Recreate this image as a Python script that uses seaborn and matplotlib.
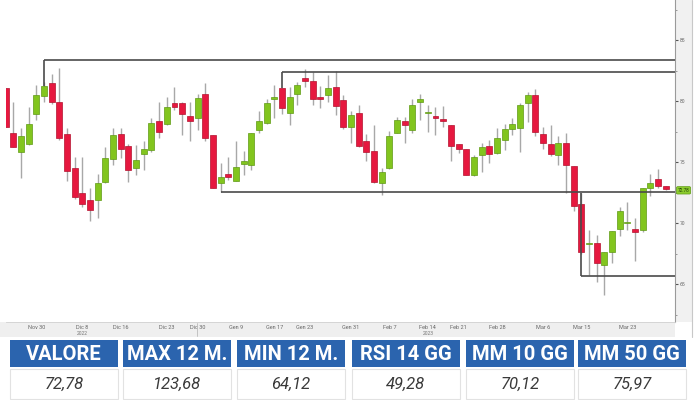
import matplotlib
matplotlib.use("Agg")
import matplotlib.pyplot as plt
from matplotlib.patches import Rectangle
import numpy as np
import pandas as pd
import seaborn as sns

# ---------------- data ----------------
opens = [81.1, 77.4, 75.85, 76.45, 78.9, 80.45, 81.45, 79.95, 77.3, 74.5,
         72.45, 71.9, 71.85, 73.35, 75.25, 77.3, 76.3, 74.5, 75.65, 75.95,
         78.35, 78.15, 79.85, 79.85, 78.75, 78.65, 80.55, 77.2, 73.25, 74.0,
         73.45, 74.8, 74.75, 77.6, 78.2, 80.2, 81.05, 79.05, 80.6, 81.85,
         81.65, 80.3, 80.5, 81.15, 80.05, 77.85, 79.0, 76.75, 75.9, 73.25,
         74.55, 77.4, 78.4, 77.6, 79.9, 79.05, 78.8, 78.5, 78.05, 76.45,
         76.05, 73.95, 75.55, 76.35, 75.75, 76.8, 77.7, 77.8, 79.85, 80.5,
         77.3, 76.45, 75.55, 76.55, 74.65, 71.6, 68.3, 68.35, 66.6, 67.65,
         69.55, 70.0, 69.55, 69.4, 72.9, 73.65, 73.0]
highs = [81.1, 79.9, 77.75, 79.55, 81.35, 81.6, 82.2, 82.7, 77.8, 75.45,
         75.45, 72.9, 74.05, 76.25, 77.75, 77.8, 76.45, 76.4, 76.7, 78.6,
         79.95, 80.35, 81.15, 79.9, 79.95, 80.6, 81.45, 77.2, 74.9, 75.45,
         76.7, 75.9, 77.4, 79.15, 80.2, 81.3, 81.1, 81.15, 81.6, 82.6,
         82.4, 81.25, 82.15, 82.45, 80.5, 79.2, 79.65, 77.3, 78.05, 74.5,
         77.55, 78.7, 78.7, 80.15, 80.6, 79.65, 79.5, 79.6, 78.05, 76.45,
         76.1, 75.55, 76.6, 76.8, 77.75, 78.15, 78.6, 79.85, 80.7, 80.95,
         77.9, 78.05, 77.1, 77.4, 74.65, 72.45, 69.4, 69.0, 67.65, 69.35,
         71.35, 71.75, 70.45, 72.9, 74.0, 74.4, 73.05]
lows = [77.9, 76.2, 73.7, 76.4, 78.45, 79.95, 79.75, 76.8, 73.45, 71.95,
        71.35, 70.2, 70.4, 73.25, 74.75, 75.3, 73.4, 73.9, 74.35, 75.85,
        77.0, 78.0, 79.25, 77.25, 76.7, 77.6, 76.7, 72.85, 72.55, 73.5,
        73.45, 73.9, 74.35, 77.35, 78.1, 78.6, 78.9, 78.05, 79.65, 81.15,
        79.65, 79.45, 79.95, 78.85, 77.7, 76.55, 76.2, 75.05, 73.25, 72.3,
        74.45, 77.35, 76.6, 77.4, 78.45, 77.5, 77.25, 77.9, 75.05, 75.7,
        73.9, 73.85, 74.2, 74.95, 75.65, 76.0, 77.2, 75.85, 78.3, 77.1,
        76.1, 75.5, 74.75, 72.45, 70.95, 67.5, 65.75, 65.2, 64.12, 66.7,
        68.95, 69.4, 66.85, 69.3, 72.2, 72.85, 72.7]
closes = [77.9, 76.25, 77.15, 78.15, 80.5, 81.2, 79.9, 76.95, 74.3, 72.1,
          71.55, 71.05, 73.25, 75.35, 77.2, 76.05, 74.35, 75.15, 76.05, 78.2,
          77.45, 79.55, 79.5, 78.9, 78.35, 80.25, 76.95, 72.9, 73.75, 73.8,
          74.6, 75.1, 77.35, 78.35, 79.8, 80.3, 79.45, 80.35, 81.3, 81.65,
          80.15, 80.15, 81.05, 79.6, 77.85, 78.85, 76.3, 75.85, 73.4, 74.15,
          77.1, 78.45, 78.05, 79.65, 80.15, 79.1, 78.6, 78.4, 76.3, 76.1,
          73.95, 75.4, 76.25, 75.65, 77.0, 77.7, 78.15, 79.65, 80.5, 77.5,
          76.6, 75.65, 76.6, 74.75, 71.4, 67.65, 68.4, 66.75, 67.65, 69.35,
          71.0, 70.05, 69.3, 72.85, 73.25, 73.0, 72.78]

tick_pos = [4, 10, 15, 21, 25, 30, 35, 39, 45, 50, 55, 59, 64, 70, 75, 81]
tick_labels = ["Nov 30", "Dic 8", "Dic 16", "Dic 23", "Dic 30", "Gen 9", "Gen 17",
               "Gen 23", "Gen 31", "Feb 7", "Feb 14", "Feb 21", "Feb 28",
               "Mar 6", "Mar 15", "Mar 23"]
year_pos = [10, 55]
year_labels = ["2022", "2023"]
y_ticks = [65, 70, 75, 80, 85]

level_start = [5, 36, 28, 75]
level_value = [83.36, 82.42, 72.55, 65.65]
level_bracket_to = [81.23, 81.04, 72.55, 72.43]

last_price = 72.78

table_headers = ["VALORE", "MAX 12 M.", "MIN 12 M.", "RSI 14 GG", "MM 10 GG", "MM 50 GG"]
table_values = ["72,78", "123,68", "64,12", "49,28", "70,12", "75,97"]

# ---------------- style ----------------
sns.set_theme(style="white")
plt.rcParams['font.family'] = ['Roboto', 'DejaVu Sans']

GREEN = "#82c51e"
GREEN_E = "#5f9a14"
RED = "#e6183f"
RED_E = "#b3112e"
WICK = "#a8a8a8"
BLUE = "#2b64ae"

df = pd.DataFrame({"open": opens, "high": highs, "low": lows, "close": closes})
df["idx"] = np.arange(len(df))
df["up"] = df["close"] >= df["open"]
df["bottom"] = df[["open", "close"]].min(axis=1)
df["height"] = (df["close"] - df["open"]).abs().clip(lower=0.09)

W, H = 700, 400
fig = plt.figure(figsize=(7, 4), dpi=100)
fig.patch.set_facecolor("white")

plot_left, plot_top, plot_bot = 6, 0, 322
plot_right = 675
ax = fig.add_axes([plot_left / W, 1 - plot_bot / H, (plot_right - plot_left) / W,
                   (plot_bot - plot_top) / H])
ax.set_facecolor("white")

# wicks
ax.vlines(df["idx"], df["low"], df["high"], color=WICK, lw=1.0, zorder=2)
# bodies
ax.bar(df["idx"], df["height"], bottom=df["bottom"], width=0.78,
       color=np.where(df["up"], GREEN, RED),
       edgecolor=np.where(df["up"], GREEN_E, RED_E), linewidth=0.5, zorder=3)

xmin, xmax = 0.05, 87.2
ax.set_xlim(xmin, xmax)
ax.set_ylim(61.89, 88.28)

# support / resistance lines
for s, lv, bt in zip(level_start, level_value, level_bracket_to):
    ax.hlines(lv, s, xmax, color="#4a4a4a", lw=1.2, zorder=4)
    ax.vlines(s, min(lv, bt), max(lv, bt), color="#4a4a4a", lw=1.2, zorder=4)

# axes styling
for sp in ["left", "top"]:
    ax.spines[sp].set_visible(False)
ax.spines["right"].set_color("#9a9a9a")
ax.spines["right"].set_linewidth(0.8)
ax.spines["bottom"].set_color("#d0d0d0")
ax.spines["bottom"].set_linewidth(0.6)

ax.yaxis.tick_right()
ax.set_yticks(y_ticks)
ax.set_yticklabels([str(v) for v in y_ticks])
ax.set_yticks([62.5, 67.5, 72.5, 77.5, 82.5, 87.5], minor=True)
ax.tick_params(axis="y", which="major", length=2, width=0.8, color="#555555",
               labelsize=3.6, labelcolor="#666666", pad=1.5, direction="out")
ax.tick_params(axis="y", which="minor", length=1.5, width=0.6, color="#888888",
               direction="out")

ax.set_xticks(tick_pos)
ax.set_xticklabels(tick_labels)
ax.set_xticks(np.arange(1, len(df)), minor=True)
ax.tick_params(axis="x", which="major", length=1.5, width=0.6, color="#888888",
               labelsize=4, labelcolor="#666666", pad=0.6, direction="out")
ax.tick_params(axis="x", which="minor", length=1.2, width=0.5, color="#aaaaaa",
               direction="out")
ax.grid(False)

for yp, yl in zip(year_pos, year_labels):
    ax.text(yp, -0.037, yl, transform=ax.get_xaxis_transform(), fontsize=3.6,
            color="#777777", ha="center", va="center")

# year separator
ax.plot([24.9, 24.9], [-0.002, -0.045], transform=ax.get_xaxis_transform(),
        color="#bbbbbb", lw=0.6, clip_on=False)

# price label
ax.text(1.004, last_price - 0.1, f"{last_price:.2f}", transform=ax.get_yaxis_transform(),
        fontsize=3.4, color="#1f3d05", ha="left", va="center",
        bbox=dict(boxstyle="round,pad=0.25", fc="#8ccc2e", ec="#5f9a14", lw=0.5),
        clip_on=False, zorder=6)

# background strips (right axis strip, bottom date strip)
fig.patches.append(Rectangle((plot_right / W, 1 - plot_bot / H), 17 / W, plot_bot / H,
                             transform=fig.transFigure, facecolor="#f1f1f1",
                             edgecolor="none", zorder=-1))
fig.patches.append(Rectangle((0, 1 - 337 / H), plot_right / W, 15 / H,
                             transform=fig.transFigure, facecolor="#efefef",
                             edgecolor="none", zorder=-1))
fig.lines.append(plt.Line2D([692 / W, 692 / W], [1 - 337 / H, 1.0],
                            transform=fig.transFigure, color="#c8c8c8", lw=0.8))

# ---------------- table ----------------
axt = fig.add_axes([0, 0, 1, 62 / H])
axt.set_xlim(0, W)
axt.set_ylim(400, 338)
axt.axis("off")
cell_x = [10, 123, 237, 352, 466, 578]
cell_w = 108
for x0, head, val in zip(cell_x, table_headers, table_values):
    axt.add_patch(Rectangle((x0, 340), cell_w, 27, facecolor=BLUE, edgecolor="none"))
    axt.add_patch(Rectangle((x0, 369), cell_w, 30, facecolor="white",
                            edgecolor="#e2e2e2", lw=0.8))
    axt.text(x0 + cell_w / 2, 354, head, ha="center", va="center", color="white",
             fontsize=14.5, fontweight="bold")
    axt.text(x0 + cell_w / 2, 384.5, val, ha="center", va="center", color="#3a3a3a",
             fontsize=12, fontstyle="italic")

fig.savefig("out.png", dpi=100, facecolor="white")
